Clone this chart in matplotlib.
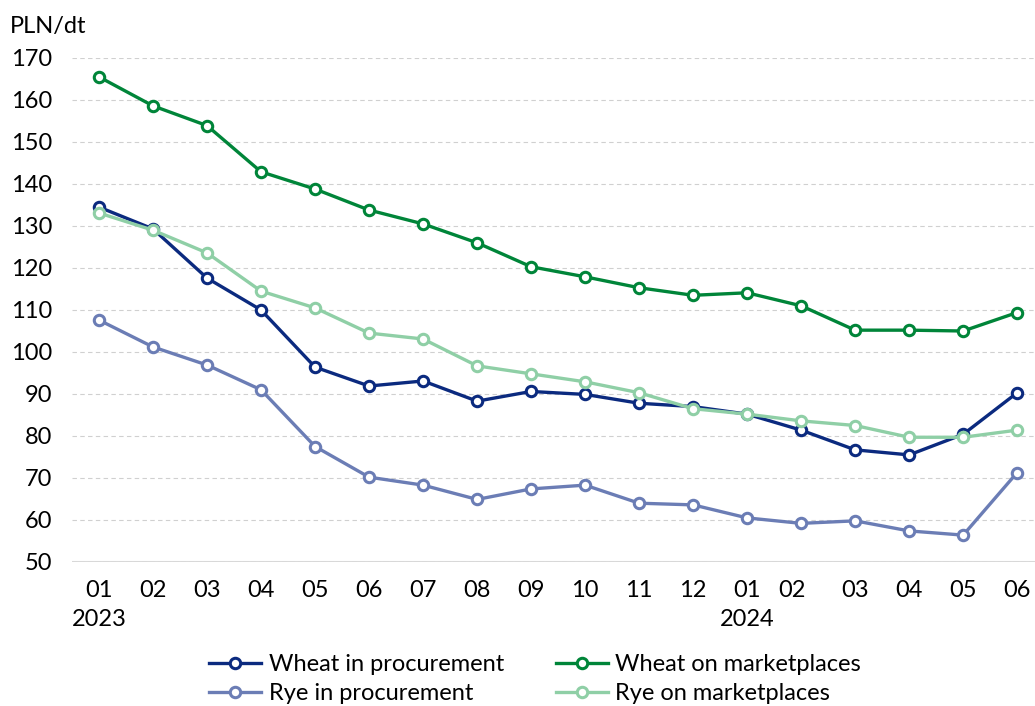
import matplotlib
matplotlib.use('Agg')
import matplotlib.pyplot as plt
import matplotlib.transforms as mtransforms

plt.rcParams['font.family'] = ['Lato', 'DejaVu Sans']

# months Jan 2023 .. Jun 2024
months = ['01\n2023', '02', '03', '04', '05', '06', '07', '08', '09', '10', '11', '12',
          '01\n2024', '02', '03', '04', '05', '06']

wheat_proc = [134.5, 129.3, 117.6, 110.0, 96.4, 91.9, 93.1, 88.3, 90.6, 89.9, 87.8, 87.0,
              85.2, 81.4, 76.7, 75.5, 80.4, 90.3]
wheat_market = [165.5, 158.6, 153.9, 142.9, 138.8, 133.8, 130.5, 126.0, 120.3, 117.9, 115.3, 113.5,
                114.1, 111.0, 105.2, 105.2, 105.0, 109.4]
rye_proc = [107.6, 101.2, 96.9, 91.0, 77.5, 70.2, 68.3, 64.9, 67.4, 68.3, 64.0, 63.6,
            60.5, 59.2, 59.8, 57.4, 56.4, 71.3]
rye_market = [133.1, 129.0, 123.6, 114.5, 110.5, 104.5, 103.1, 96.7, 94.8, 92.9, 90.3, 86.5,
              85.2, 83.6, 82.5, 79.7, 79.7, 81.4]

series = [
    ('Wheat in procurement', wheat_proc, '#0b2a7f'),
    ('Wheat on marketplaces', wheat_market, '#008539'),
    ('Rye in procurement', rye_proc, '#6b7db5'),
    ('Rye on marketplaces', rye_market, '#8fcfa6'),
]

fig = plt.figure(figsize=(10.35, 7.06), dpi=100)
ax = fig.add_axes([72 / 1035, 1 - 562 / 706, 1 - 72 / 1035, 504 / 706])

x = list(range(len(months)))
handles = {}
for name, vals, col in series:
    h, = ax.plot(x, vals, color=col, lw=2.4, marker='o', ms=7.5, mfc='white',
                 mec=col, mew=2.2, label=name, zorder=3)
    handles[name] = h

ax.set_ylim(50, 170)
ax.set_yticks(range(50, 171, 10))
ax.set_xlim(-0.5, 17.33)
ax.set_xticks(x)
ax.set_xticklabels(months, fontsize=17, linespacing=1.45)
ax.tick_params(axis='y', labelsize=17, length=0, pad=14)
ax.tick_params(axis='x', length=0, pad=13)
# the 2024 "02" label sits a bit left of its point in the original
lab02 = ax.get_xticklabels()[13]
lab02.set_transform(lab02.get_transform() + mtransforms.ScaledTranslation(-0.09, 0, fig.dpi_scale_trans))

ax.grid(axis='y', color='#d0d0d0', lw=0.8, ls=(0, (4, 3)))
ax.axhline(50, color='#d9d9d9', lw=1.5, zorder=1)
for s in ax.spines.values():
    s.set_visible(False)

fig.text(10 / 1035, 1 - 26 / 706, 'PLN/dt', fontsize=17, va='center', ha='left')

# matplotlib fills legend columns first
order = ['Wheat in procurement', 'Rye in procurement', 'Wheat on marketplaces', 'Rye on marketplaces']
fig.legend([handles[n] for n in order], order, ncol=2, loc='center',
           bbox_to_anchor=(535 / 1035, 1 - 679 / 706), frameon=False, fontsize=17,
           handlelength=2.2, handletextpad=0.3, columnspacing=2.2, labelspacing=0.35,
           borderpad=0)

fig.savefig('out.png', dpi=100)
